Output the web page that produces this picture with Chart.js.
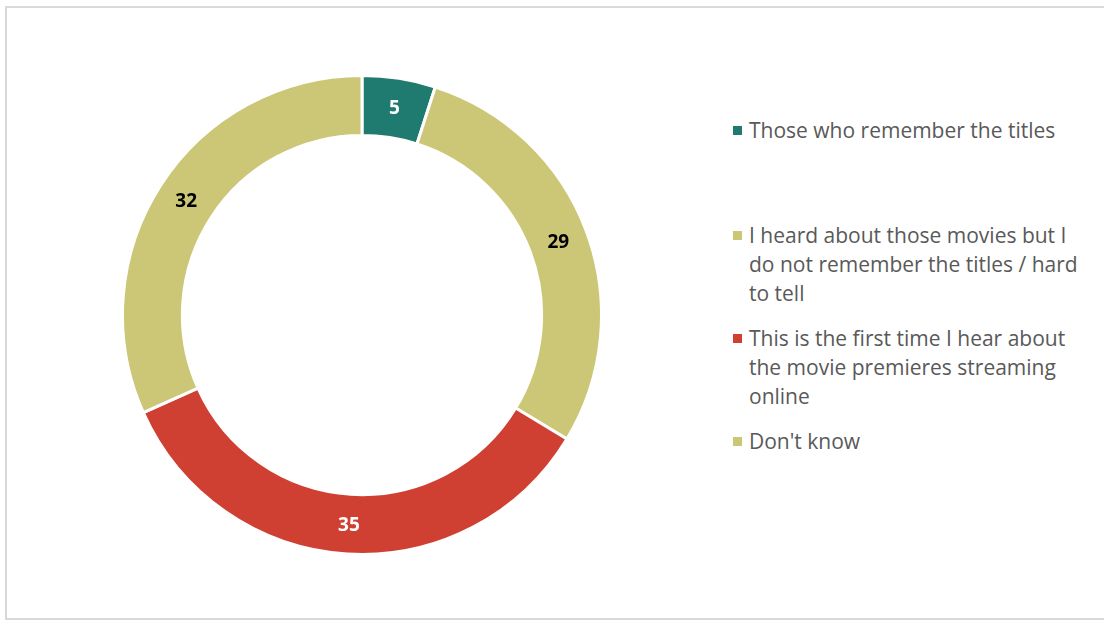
<!DOCTYPE html>
<html>
<head>
<meta charset="utf-8">
<title>Movie premieres streaming online</title>
<script src="https://cdn.jsdelivr.net/npm/chart.js@4"></script>
<style>
    html, body {
        margin: 0;
        padding: 0;
        background: #ffffff;
        width: 1104px;
        height: 624px;
        overflow: hidden;
        font-family: "Open Sans", "Noto Sans", sans-serif;
    }
    .frame {
        position: absolute;
        left: 5px;
        top: 6px;
        width: 1110px;
        height: 614px;
        border: 2px solid #d9d9d9;
        box-sizing: border-box;
    }
    .chart-box {
        position: absolute;
        left: 121px;
        top: 74px;
        width: 482px;
        height: 482px;
    }
    .legend {
        position: absolute;
        left: 732px;
        top: 116px;
        width: 354px;
        margin: 0;
        padding: 0;
        list-style: none;
    }
    .legend li {
        position: relative;
        padding-left: 17px;
        font-size: 21px;
        line-height: 29px;
        color: #595959;
        margin-bottom: 16px;
    }
    .legend li:first-child {
        margin-bottom: 76px;
    }
    .legend .swatch {
        position: absolute;
        left: 1px;
        top: 10px;
        width: 9px;
        height: 9px;
    }
</style>
</head>
<body>
<div class="frame"></div>
<div class="chart-box"><canvas id="donutChart"></canvas></div>
<ul class="legend" id="legendList"></ul>

<script>
// Survey answers, in drawing order (clockwise from 12 o'clock)
const categories = [
    'Those who remember the titles',
    'I heard about those movies but I do not remember the titles / hard to tell',
    'This is the first time I hear about the movie premieres streaming online',
    "Don't know"
];
const shares = [5, 29, 35, 32];
const sliceColors = ['#1f7a6f', '#cbc776', '#d04032', '#cbc776'];
const labelColors = ['#ffffff', '#000000', '#ffffff', '#000000'];

// Value labels drawn in the middle of each ring segment
const sliceLabels = {
    id: 'sliceLabels',
    afterDatasetsDraw(chart) {
        const { ctx } = chart;
        const meta = chart.getDatasetMeta(0);
        ctx.save();
        ctx.font = 'bold 19px "Open Sans", "Noto Sans", sans-serif';
        ctx.textAlign = 'center';
        ctx.textBaseline = 'middle';
        meta.data.forEach((arc, i) => {
            const pos = arc.getCenterPoint();
            ctx.fillStyle = labelColors[i];
            ctx.fillText(String(shares[i]), pos.x, pos.y + 1);
        });
        ctx.restore();
    }
};

new Chart(document.getElementById('donutChart'), {
    type: 'doughnut',
    data: {
        labels: categories,
        datasets: [{
            data: shares,
            backgroundColor: sliceColors,
            borderColor: '#ffffff',
            borderWidth: 3,
            hoverOffset: 0
        }]
    },
    options: {
        responsive: true,
        maintainAspectRatio: false,
        animation: false,
        cutout: '75%',
        rotation: 0,
        layout: { padding: 0 },
        plugins: {
            legend: { display: false },
            tooltip: { enabled: false }
        }
    },
    plugins: [sliceLabels]
});

// Legend on the right, wraps long answers
const legendList = document.getElementById('legendList');
legendList.innerHTML = categories
    .map((name, i) => `
        <li><span class="swatch" style="background:${sliceColors[i]}"></span>${name}</li>
    `)
    .join('');
</script>
</body>
</html>
